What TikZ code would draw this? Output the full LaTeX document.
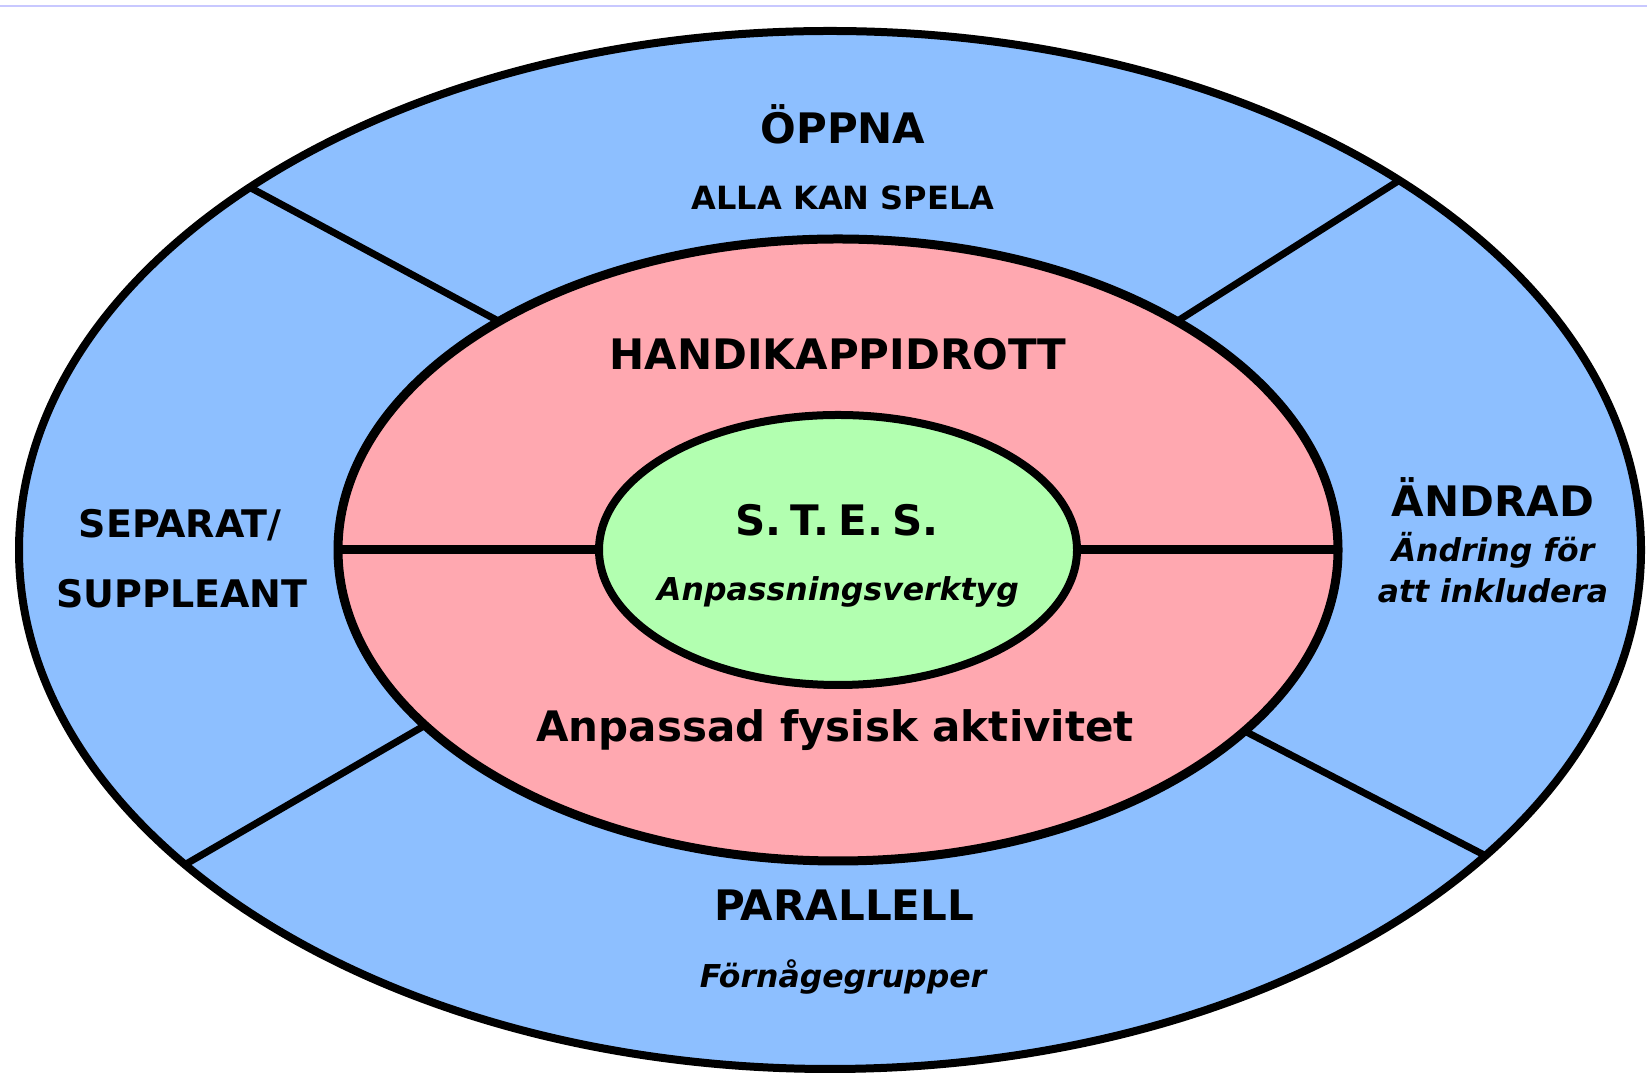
\documentclass[tikz,border=0pt]{standalone}
\usepackage{fontspec}
\setmainfont{DejaVu Sans}
\usetikzlibrary{shapes.geometric}
\definecolor{ringblue}{RGB}{141,191,255}
\definecolor{ringpink}{RGB}{255,168,176}
\definecolor{ringgreen}{RGB}{178,255,176}
\definecolor{topline}{RGB}{200,200,255}
\begin{document}
\begin{tikzpicture}[x=0.5pt,y=0.5pt,
  ring/.style={ellipse, draw=black, inner sep=0pt, outer sep=0pt},
  spoke/.style={draw=black, line width=3.5pt},
  divider/.style={draw=black, line width=4.5pt},
  big/.style={font=\fontsize{21pt}{25pt}\selectfont\bfseries, anchor=base, inner sep=0pt},
  mid/.style={font=\fontsize{19pt}{23pt}\selectfont\bfseries, anchor=base, inner sep=0pt},
  small/.style={font=\fontsize{16pt}{19pt}\selectfont\bfseries, anchor=base, inner sep=0pt},
  ital/.style={font=\fontsize{15.75pt}{19pt}\selectfont\bfseries\itshape, anchor=base, inner sep=0pt}]
\useasboundingbox (0,0) rectangle (1647,1080);
\fill[white] (0,0) rectangle (1647,1080);
\coordinate (tlA) at (0,1074);
\coordinate (tlB) at (1647,1074);
\draw[topline, line width=0.9pt] (tlA) -- (tlB);
% rings
\node[ring, fill=ringblue, line width=4pt, minimum width=811pt, minimum height=519pt] (outer) at (830,530) {};
\node[ring, fill=ringpink, line width=4.5pt, minimum width=500pt, minimum height=311pt] (middle) at (838,530) {};
\node[ring, fill=ringgreen, line width=4pt, minimum width=239pt, minimum height=135pt] (inner) at (838,530) {};
% spokes
\draw[spoke] (outer.148) -- (middle.146);
\draw[spoke] (outer.33) -- (middle.34);
\draw[spoke] (outer.206) -- (middle.203);
\draw[spoke] (outer.335) -- (middle.336);
% dividers
\draw[divider] (middle.west) -- (inner.west);
\draw[divider] (inner.east) -- (middle.east);
% texts
\node[big] (oppna) at (843,936) {ÖPPNA};
\node[small] (alla) at (843,870) {ALLA KAN SPELA};
\node[big] (handi) at (838,710) {HANDIKAPPIDROTT};
\node[big] (stes) at (837,544) {S.\hspace{4.6pt}T.\hspace{4.6pt}E.\hspace{4.6pt}S.};
\node[ital] (verktyg) at (838,479) {Anpassningsverktyg};
\node[big] (apa) at (835,338) {Anpassad fysisk aktivitet};
\node[big] (parallell) at (844,159) {PARALLELL};
\node[ital] (formaga) at (843,92) {Förnågegrupper};
\node[mid] (separat) at (180,542) {SEPARAT/};
\node[mid] (suppleant) at (182,472) {SUPPLEANT};
\node[big] (andrad) at (1493,563) {ÄNDRAD};
\node[ital] (andring) at (1493,518) {Ändring för};
\node[ital] (inkl) at (1493,477) {att inkludera};
\end{tikzpicture}
\end{document}
